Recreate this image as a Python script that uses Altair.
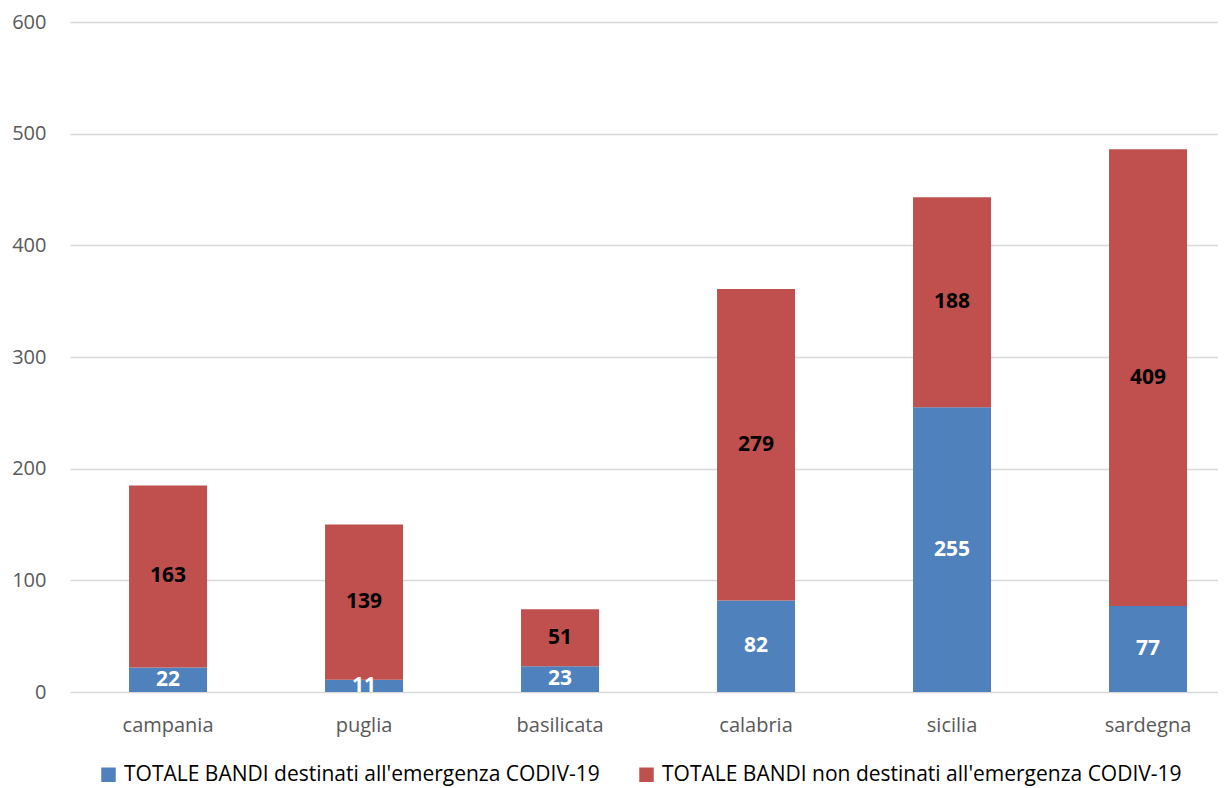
import altair as alt
import pandas as pd

regions = ["campania", "puglia", "basilicata", "calabria", "sicilia", "sardegna"]
covid = [22, 11, 23, 82, 255, 77]
non_covid = [163, 139, 51, 279, 188, 409]
series_names = [
    "TOTALE BANDI destinati all'emergenza CODIV-19",
    "TOTALE BANDI non destinati all'emergenza CODIV-19",
]
colors = ["#4F81BD", "#C0504D"]
label_colors = ["white", "black"]

rows = []
for i, r in enumerate(regions):
    rows.append({"region": r, "series": series_names[0], "value": covid[i], "ord": 0, "lc": label_colors[0]})
    rows.append({"region": r, "series": series_names[1], "value": non_covid[i], "ord": 1, "lc": label_colors[1]})
df = pd.DataFrame(rows)

FONT = "Open Sans"

base = alt.Chart(df).transform_stack(
    stack="value", groupby=["region"], sort=[{"field": "ord", "order": "ascending"}], as_=["y0", "y1"]
).transform_calculate(mid="(datum.y0 + datum.y1) / 2")

xscale = alt.Scale(paddingInner=0.602, paddingOuter=0.2296, align=0.656)

x = alt.X("region:N", sort=regions, title=None, scale=xscale,
          axis=alt.Axis(labelAngle=0, labelFontSize=20, labelColor="#595959", labelFont=FONT,
                        domain=False, ticks=False, labelPadding=23, grid=False))

bars = base.mark_bar().encode(
    x=x,
    y=alt.Y("y0:Q", title=None, scale=alt.Scale(domain=[0, 600]),
            axis=alt.Axis(values=[0, 100, 200, 300, 400, 500, 600], labelFontSize=20,
                          labelColor="#595959", labelFont=FONT, domain=False, ticks=False,
                          gridColor="#D9D9D9", gridWidth=1.5, labelPadding=24)),
    y2="y1:Q",
    color=alt.Color("series:N", sort=series_names,
                    scale=alt.Scale(domain=series_names, range=colors),
                    legend=alt.Legend(title=None, orient="none", direction="horizontal",
                                      legendX=28, legendY=742,
                                      symbolType="square", symbolSize=210, symbolStrokeWidth=0,
                                      labelFontSize=21, labelFont=FONT, labelColor="#000000",
                                      labelOffset=5, columnPadding=36, labelLimit=700)),
)

labels = base.mark_text(fontSize=21, fontWeight="bold", font=FONT, baseline="middle").encode(
    x=alt.X("region:N", sort=regions),
    y=alt.Y("mid:Q"),
    text=alt.Text("value:Q"),
    color=alt.Color("lc:N", scale=None, legend=None),
)

chart = alt.layer(bars, labels).properties(
    width=1148, height=670,
    autosize=alt.AutoSizeParams(type="none"),
    padding={"left": 62, "top": 14, "right": 0, "bottom": 96},
).configure_view(stroke=None).resolve_scale(color="independent")

chart.save("out.html", embed_options={"renderer": "svg", "actions": False})
